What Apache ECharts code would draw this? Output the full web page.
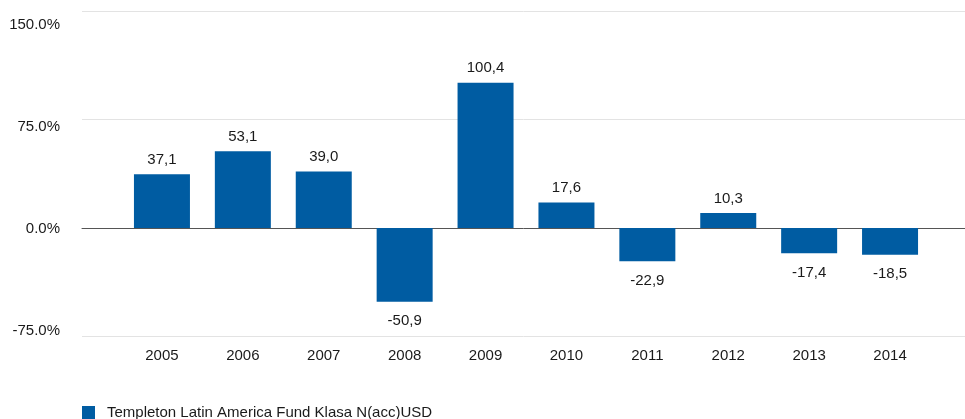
<!DOCTYPE html>
<html><head><meta charset="utf-8">
<script src="https://cdn.jsdelivr.net/npm/echarts@6/dist/echarts.min.js"></script>
<style>html,body{margin:0;padding:0;background:#fff}#c{width:965px;height:419px}</style>
</head><body><div id="c"></div>
<script>
var categories = ['2005','2006','2007','2008','2009','2010','2011','2012','2013','2014'];
var values = [37.1, 53.1, 39.0, -50.9, 100.4, 17.6, -22.9, 10.3, -17.4, -18.5];
var yTicks = [-75, 0, 75, 150];
var seriesName = 'Templeton Latin America Fund Klasa N(acc)USD';

var FONT = '"Liberation Sans", Arial, sans-serif';
var TXT = '#1a1a1a';
var FS = 15;
var chart = echarts.init(document.getElementById('c'));
var yMin = yTicks[0], yMax = yTicks[yTicks.length - 1], yInt = yTicks[1] - yTicks[0];
chart.setOption({
  animation: false,
  textStyle: {fontFamily: FONT},
  grid: [
    {left: 82, right: 0, top: 11, bottom: 82.5},
    {left: 121.5, right: 34.5, top: 11, bottom: 82.5},
    {left: 82, right: 0, top: 24.5, bottom: 88}
  ],
  xAxis: [
    {gridIndex: 0, type: 'value', min: 0, max: 1, show: true,
     axisLine: {show: true, onZero: true, lineStyle: {color: '#555', width: 1}},
     axisTick: {show: false}, axisLabel: {show: false}, splitLine: {show: false}},
    {gridIndex: 1, type: 'category', data: categories,
     axisLine: {show: false}, axisTick: {show: false}, splitLine: {show: false},
     position: 'bottom',
     axisLabel: {color: TXT, fontSize: FS, fontFamily: FONT, margin: 12}},
    {gridIndex: 2, type: 'value', min: 0, max: 1, show: false}
  ],
  yAxis: [
    {gridIndex: 0, type: 'value', min: yMin, max: yMax, interval: yInt,
     axisLine: {show: false}, axisTick: {show: false},
     splitLine: {show: true, lineStyle: {color: '#e3e3e3', width: 1}},
     axisLabel: {show: false}},
    {gridIndex: 1, type: 'value', min: yMin, max: yMax, interval: yInt, show: false},
    {gridIndex: 2, type: 'value', min: yMin, max: yMax, interval: yInt,
     axisLine: {show: false}, axisTick: {show: false}, splitLine: {show: false},
     axisLabel: {color: TXT, fontSize: FS, fontFamily: FONT, margin: 22,
       formatter: function (v) { return v.toFixed(1) + '%'; }}}
  ],
  legend: {
    left: 82, top: 405, padding: 0, itemWidth: 13, itemHeight: 13,
    icon: 'rect',
    textStyle: {color: TXT, fontSize: FS, fontFamily: FONT, padding: [0, 0, 0, 7]},
    data: [seriesName]
  },
  series: [{
    name: seriesName, type: 'bar', xAxisIndex: 1, yAxisIndex: 1,
    barWidth: 56,
    itemStyle: {color: '#005ca2'},
    data: values.map(function (v) {
      return {value: v, label: {position: v >= 0 ? 'top' : 'bottom', distance: v >= 0 ? 7 : 12}};
    }),
    label: {show: true, color: TXT, fontSize: FS, fontFamily: FONT,
      formatter: function (p) { return p.value.toFixed(1).replace('.', ','); }}
  }]
});
</script></body></html>
